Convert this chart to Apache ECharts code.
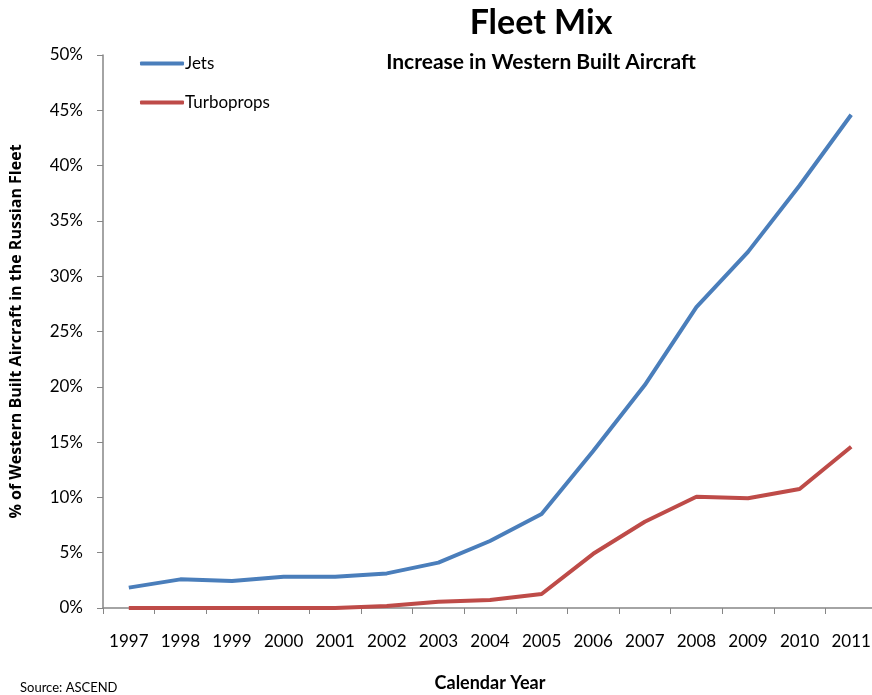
<!DOCTYPE html>
<html>
<head>
<meta charset="utf-8">
<script src="https://cdn.jsdelivr.net/npm/echarts@6/dist/echarts.min.js"></script>
<style>
  html, body { margin: 0; padding: 0; background: #fff; }
  #chart { width: 872px; height: 695px; }
</style>
</head>
<body>
<div id="chart"></div>
<script>
// Calendar years on the x axis
const years = ['1997','1998','1999','2000','2001','2002','2003','2004','2005','2006','2007','2008','2009','2010','2011'];
// Share of western-built aircraft in the Russian fleet (%)
const jets = [1.84, 2.59, 2.44, 2.83, 2.83, 3.13, 4.1, 6.06, 8.5, 14.2, 20.16, 27.2, 32.2, 38.2, 44.6];
const turboprops = [0, 0, 0, 0, 0, 0.18, 0.57, 0.72, 1.27, 4.9, 7.8, 10.06, 9.92, 10.76, 14.58];
const yTicks = [0, 5, 10, 15, 20, 25, 30, 35, 40, 45, 50];

const FONT = 'Lato, "Liberation Sans", sans-serif';
const AXIS_GRAY = '#868686';

const chart = echarts.init(document.getElementById('chart'));
chart.setOption({
  animation: false,
  textStyle: { fontFamily: FONT, color: '#000' },
  title: [
    { text: 'Fleet Mix', left: 536, top: 1, textAlign: 'center',
      textStyle: { fontFamily: FONT, fontSize: 34, fontWeight: 'bold', color: '#000' } },
    { text: 'Increase in Western Built Aircraft', left: 536, top: 47, textAlign: 'center',
      textStyle: { fontFamily: FONT, fontSize: 21, fontWeight: 'bold', color: '#000' } },
    { text: 'Source: ASCEND', left: 15, top: 676,
      textStyle: { fontFamily: FONT, fontSize: 13, fontWeight: 'normal', color: '#000' } }
  ],
  legend: {
    orient: 'vertical', left: 135, top: 50,
    itemWidth: 44, itemHeight: 4, itemGap: 22,
    icon: 'roundRect',
    textStyle: { fontFamily: FONT, fontSize: 17, color: '#000', padding: [0, 0, 0, -4] },
    data: ['Jets', 'Turboprops']
  },
  grid: { left: 103, right: -5, top: 55, bottom: 87, containLabel: false, outerBoundsMode: 'none' },
  xAxis: {
    type: 'category', data: years, boundaryGap: true,
    name: 'Calendar Year', nameLocation: 'middle', nameGap: 66,
    nameTextStyle: { fontFamily: FONT, fontSize: 18, fontWeight: 'bold', color: '#000' },
    axisLine: { lineStyle: { color: AXIS_GRAY, width: 1.5 } },
    axisTick: { show: true, alignWithLabel: false, length: 6, lineStyle: { color: AXIS_GRAY } },
    axisLabel: { fontFamily: FONT, fontSize: 17, color: '#000', margin: 25, interval: 0 }
  },
  yAxis: {
    type: 'value', min: yTicks[0], max: yTicks[yTicks.length - 1], interval: 5,
    name: '% of Western Built Aircraft in the Russian Fleet',
    nameLocation: 'middle', nameGap: 79, nameRotate: 90,
    nameTextStyle: { fontFamily: '"Open Sans", sans-serif', fontSize: 16, fontWeight: 'bold', color: '#000' },
    axisLine: { show: true, lineStyle: { color: AXIS_GRAY, width: 1.5 } },
    axisTick: { show: true, length: 6, lineStyle: { color: AXIS_GRAY } },
    splitLine: { show: false },
    axisLabel: { fontFamily: FONT, fontSize: 17, color: '#000', margin: 20,
      formatter: v => v + '%' }
  },
  series: [
    { name: 'Jets', type: 'line', data: jets, symbol: 'none',
      lineStyle: { color: '#4A7EBB', width: 4 }, itemStyle: { color: '#4A7EBB' } },
    { name: 'Turboprops', type: 'line', data: turboprops, symbol: 'none',
      lineStyle: { color: '#BE4B48', width: 4 }, itemStyle: { color: '#BE4B48' } }
  ]
});
</script>
</body>
</html>
